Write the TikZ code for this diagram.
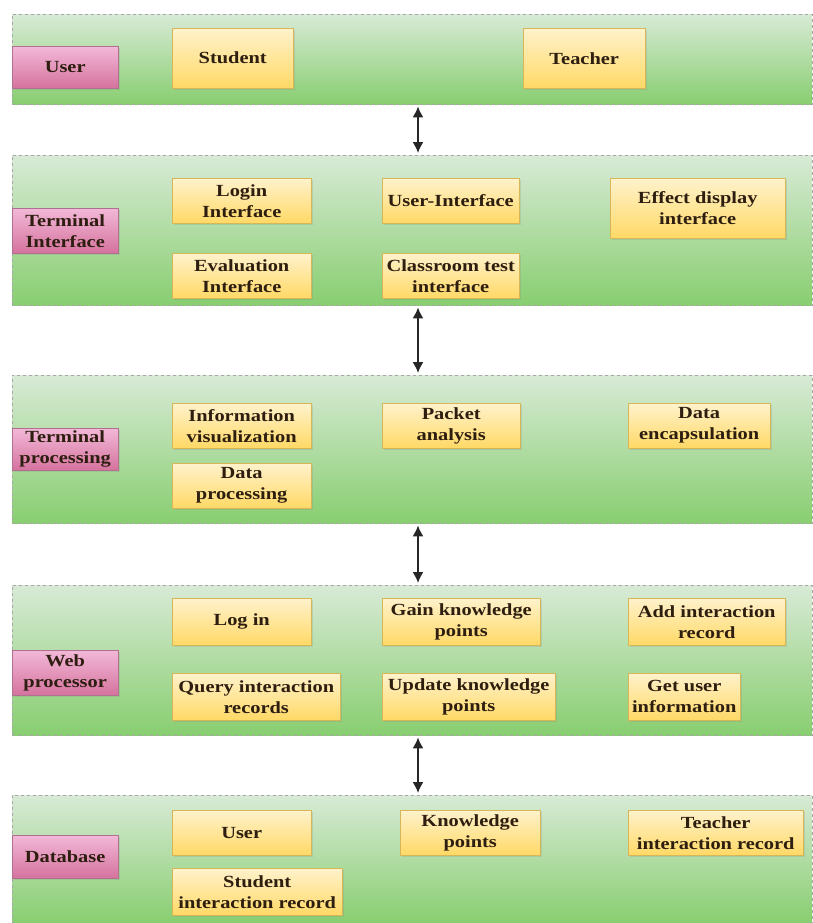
\documentclass[tikz,border=0pt]{standalone}
\usepackage{fontspec}
\setmainfont{Liberation Serif}[FakeStretch=1.2]
\usetikzlibrary{shadows,arrows.meta}

\definecolor{bandtop}{HTML}{D8EAD6}
\definecolor{bandbot}{HTML}{88CE70}
\definecolor{yeltop}{HTML}{FFF2CC}
\definecolor{yelbot}{HTML}{FFD966}
\definecolor{yelline}{HTML}{D6B656}
\definecolor{rosetop}{HTML}{F2B8D8}
\definecolor{rosebot}{HTML}{D5739D}
\definecolor{roseline}{HTML}{B07090}
\definecolor{textcol}{HTML}{2E1E10}

\tikzset{
  band/.style={draw=gray!70, dashed, top color=bandtop, bottom color=bandbot,
    anchor=north west, inner sep=0pt, minimum width=800pt},
  layer/.style={draw=roseline, top color=rosetop, bottom color=rosebot,
    anchor=north west, inner sep=1pt, minimum width=106pt, align=center,
    font=\fontsize{17}{21}\selectfont\bfseries, text=textcol,
    drop shadow={opacity=0.2, shadow xshift=1.5pt, shadow yshift=-1.5pt}},
  ybox/.style={draw=yelline, top color=yeltop, bottom color=yelbot,
    anchor=north west, inner sep=1pt, align=center,
    font=\fontsize{17}{21}\selectfont\bfseries, text=textcol,
    drop shadow={opacity=0.2, shadow xshift=1.5pt, shadow yshift=-1.5pt}},
  link/.style={{Latex[length=11pt,width=11pt]}-{Latex[length=11pt,width=11pt]},
    line width=1.6pt, black!85, shorten >=2pt, shorten <=2pt}
}

\begin{document}
\begin{tikzpicture}[x=1pt,y=-1pt]
\useasboundingbox (0,0) rectangle (813,923);

% layers
\node[band, minimum height=90pt] (userband) at (12,14) {};
\node[band, minimum height=150pt] (termband) at (12,155) {};
\node[band, minimum height=148pt] (procband) at (12,375) {};
\node[band, minimum height=150pt] (webband) at (12,585) {};
\node[band, minimum height=128pt] (dbband) at (12,795) {};

% layer names
\node[layer, minimum height=42pt] (userlbl) at (12,46) {User};
\node[layer, minimum height=45pt] (termlbl) at (12,208) {Terminal\\Interface};
\node[layer, minimum height=42pt] (proclbl) at (12,428) {Terminal\\processing};
\node[layer, minimum height=45pt] (weblbl) at (12,650) {Web\\processor};
\node[layer, minimum height=43pt] (dblbl) at (12,835) {Database};

% user
\node[ybox, minimum width=121pt, minimum height=60pt] (student) at (172,28) {Student};
\node[ybox, minimum width=122pt, minimum height=60pt] (teacher) at (523,28) {Teacher};

% terminal interface
\node[ybox, minimum width=139pt, minimum height=45pt] (login) at (172,178) {Login\\Interface};
\node[ybox, minimum width=137pt, minimum height=45pt] (uif) at (382,178) {User-Interface};
\node[ybox, minimum width=175pt, minimum height=60pt] (effect) at (610,178) {Effect display\\interface};
\node[ybox, minimum width=139pt, minimum height=45pt] (evalif) at (172,253) {Evaluation\\Interface};
\node[ybox, minimum width=137pt, minimum height=45pt] (classtest) at (382,253) {Classroom test\\interface};

% terminal processing
\node[ybox, minimum width=139pt, minimum height=45pt] (infovis) at (172,403) {Information\\visualization};
\node[ybox, minimum width=138pt, minimum height=45pt] (packet) at (382,403) {Packet\\analysis};
\node[ybox, minimum width=142pt, minimum height=45pt] (encap) at (628,403) {Data\\encapsulation};
\node[ybox, minimum width=139pt, minimum height=45pt] (dataproc) at (172,463) {Data\\processing};

% web processor
\node[ybox, minimum width=139pt, minimum height=47pt] (logon) at (172,598) {Log in};
\node[ybox, minimum width=158pt, minimum height=47pt] (gainkp) at (382,598) {Gain knowledge\\points};
\node[ybox, minimum width=157pt, minimum height=47pt] (addrec) at (628,598) {Add interaction\\record};
\node[ybox, minimum width=168pt, minimum height=47pt] (queryrec) at (172,673) {Query interaction\\records};
\node[ybox, minimum width=173pt, minimum height=47pt] (updkp) at (382,673) {Update knowledge\\points};
\node[ybox, minimum width=112pt, minimum height=47pt] (getuser) at (628,673) {Get user\\information};

% database
\node[ybox, minimum width=139pt, minimum height=45pt] (dbuser) at (172,810) {User};
\node[ybox, minimum width=140pt, minimum height=45pt] (dbkp) at (400,810) {Knowledge\\points};
\node[ybox, minimum width=175pt, minimum height=45pt] (teachrec) at (628,810) {Teacher\\interaction record};
\node[ybox, minimum width=170pt, minimum height=47pt] (studrec) at (172,868) {Student\\interaction record};

% links between layers
\coordinate (mid) at (418,0);
\foreach \up/\down in {userband/termband, termband/procband, procband/webband, webband/dbband}
  \draw[link] (\up.south -| mid) -- (\down.north -| mid);
\end{tikzpicture}
\end{document}
